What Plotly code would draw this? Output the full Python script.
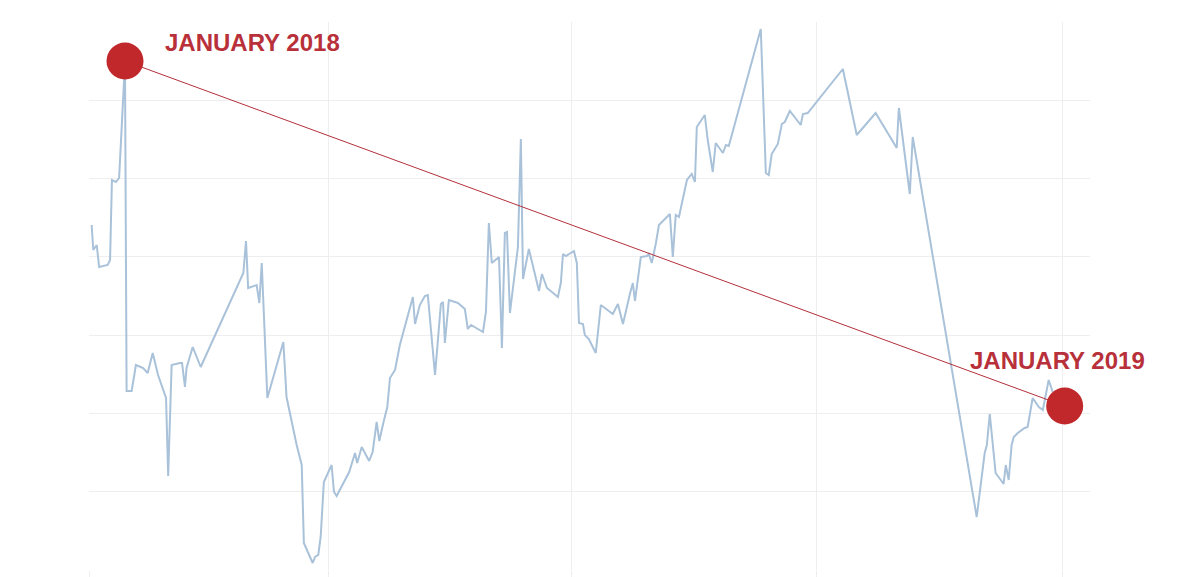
import pandas as pd
import plotly.graph_objects as go

# days since 2018-01-01 and values
days = [1.0, 1.6, 2.9, 3.8, 7.0, 7.9, 8.6, 10.1, 11.3, 13.5,
        14.1, 16.0, 17.6, 20.3, 22.0, 23.9, 25.9, 28.9, 29.7, 31.0,
        34.1, 34.9, 36.0, 36.6, 38.9, 41.9, 57.9, 58.9, 59.7, 62.9,
        63.9, 64.8, 66.9, 72.9, 74.1, 77.9, 79.8, 80.6, 83.9, 84.8,
        86.0, 86.9, 88.1, 91.0, 91.9, 92.9, 97.6, 99.8, 100.6, 102.3,
        105.1, 106.4, 107.9, 108.9, 110.4, 111.9, 112.9, 114.8, 116.6, 119.3,
        121.5, 122.3, 124.1, 126.0, 127.1, 129.8, 132.0, 132.8, 133.5, 135.0,
        138.4, 141.0, 142.1, 143.3, 147.8, 148.9, 150.0, 151.1, 153.8, 154.9,
        156.0, 156.8, 157.9, 160.9, 162.0, 162.8, 165.0, 168.8, 169.9, 171.8,
        175.5, 175.9, 177.0, 177.8, 178.9, 181.9, 183.0, 183.8, 185.3, 186.0,
        187.5, 190.1, 192.0, 196.5, 198.4, 200.3, 202.9, 204.0, 204.8, 207.0,
        209.3, 210.0, 211.1, 212.6, 213.8, 217.9, 219.0, 220.1, 221.3, 224.3,
        226.1, 227.3, 228.0, 231.0, 232.1, 232.9, 234.0, 235.1, 237.8, 238.9,
        240.0, 252.0, 253.9, 255.0, 256.1, 258.4, 259.9, 261.0, 262.9, 267.0,
        267.8, 269.6, 282.8, 288.0, 295.1, 303.0, 303.8, 307.9, 309.0, 333.0,
        336.0, 336.8, 337.9, 340.1, 343.1, 343.9, 345.0, 346.1, 346.9, 348.4,
        351.0, 352.1, 354.0, 356.3, 357.8, 360.0, 361.5]
values = [345, 320, 325, 303, 305, 310, 390, 388, 392, 508,
          179, 179, 205, 202, 197, 217, 195, 172, 94, 205,
          207, 207, 183, 202, 223, 203, 297, 329, 282, 285,
          267, 307, 172, 228, 173, 125, 105, 27, 7, 13,
          15, 33, 88, 105, 78, 74, 98, 117, 107, 123,
          109, 118, 148, 129, 147, 163, 192, 200, 225, 252,
          273, 246, 265, 274, 275, 195, 266, 268, 227, 270,
          267, 261, 241, 245, 238, 258, 347, 307, 313, 222,
          337, 338, 257, 323, 431, 291, 321, 279, 296, 282,
          274, 273, 287, 316, 314, 319, 307, 247, 246, 235,
          231, 217, 265, 256, 266, 246, 276, 287, 269, 313,
          314, 316, 307, 326, 345, 356, 313, 355, 353, 390,
          396, 388, 443, 455, 430, 418, 398, 427, 417, 425,
          424, 541, 397, 395, 416, 426, 446, 448, 459, 445,
          456, 457, 501, 435, 457, 422, 462, 376, 433, 53,
          117, 125, 156, 97, 86, 105, 90, 125, 133, 137,
          142, 143, 172, 163, 160, 190, 178]

marker_days = [13.5, 366.0]
marker_values = [509, 164]
marker_labels = ["JANUARY 2018", "JANUARY 2019"]

start = pd.Timestamp("2018-01-01")
dates = [start + pd.Timedelta(days=d) for d in days]
mdates = [start + pd.Timedelta(days=d) for d in marker_days]

RED = "#c0282b"
TEXT_RED = "#b8303a"

fig = go.Figure()
fig.add_trace(go.Scatter(
    x=dates, y=values, mode="lines",
    line=dict(color="#a9c2d9", width=2), hoverinfo="skip", showlegend=False))
fig.add_trace(go.Scatter(
    x=mdates, y=marker_values, mode="lines+markers",
    line=dict(color="#b3303a", width=1),
    marker=dict(size=37, color=RED, line=dict(width=0)),
    showlegend=False, cliponaxis=False))

ann_pos = [(0.0739, 0.9635), (0.878, 0.3814)]
for (ax, ay), label in zip(ann_pos, marker_labels):
    fig.add_annotation(
        x=ax, y=ay, xref="paper", yref="paper", text=f"<b>{label}</b>",
        showarrow=False, xanchor="left", yanchor="middle",
        font=dict(family="Liberation Sans, Arial, sans-serif", size=24, color=TEXT_RED))

fig.update_layout(
    width=1194, height=569,
    margin=dict(l=81, r=112, t=14, b=7, autoexpand=False),
    paper_bgcolor="white", plot_bgcolor="white",
    xaxis=dict(type="date", range=["2018-01-01", "2019-01-11 12:00"],
               tick0="2018-01-01", dtick="M3", showticklabels=False,
               showgrid=True, gridcolor="#eeeeee", gridwidth=1,
               ticks="outside", ticklen=7, tickcolor="#eeeeee",
               zeroline=False, showline=False, automargin=False),
    yaxis=dict(range=[0, 548], tick0=0, dtick=548 / 7, showticklabels=False,
               showgrid=True, gridcolor="#eeeeee", gridwidth=1,
               zeroline=False, showline=False, automargin=False),
)

fig.write_html("out.html")
